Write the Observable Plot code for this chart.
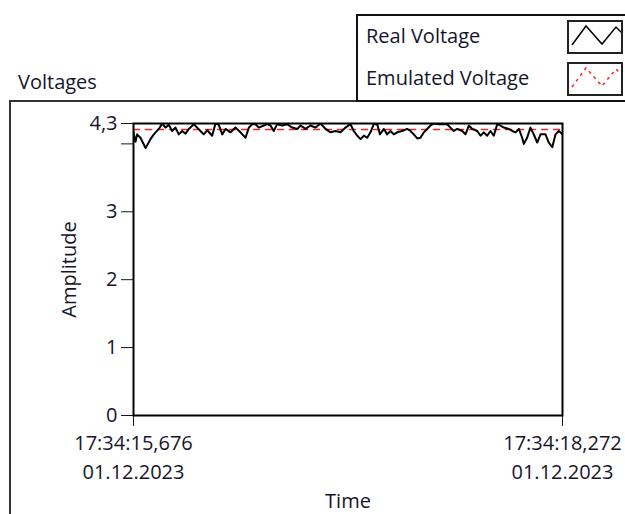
<!DOCTYPE html>
<html><head><meta charset="utf-8">
<script src="https://cdn.jsdelivr.net/npm/d3@7"></script>
<script src="https://cdn.jsdelivr.net/npm/@observablehq/plot@0.6"></script>
<style>
body{margin:0;background:#fff;font-family:"Open Sans",sans-serif;color:#15152a;}
#wrap{position:relative;width:625px;height:514px;overflow:hidden;background:#fff;}
#panel{position:absolute;left:9px;top:100px;width:700px;height:500px;border-left:2px solid #333;border-top:2px solid #333;box-sizing:border-box;}
#title{position:absolute;left:18px;top:68px;font-size:20px;line-height:28px;white-space:nowrap;}
#legend{position:absolute;left:356px;top:14px;width:300px;height:88px;border:2px solid #111;box-sizing:border-box;background:#fff;}
.row{position:absolute;left:8px;font-size:20px;line-height:28px;white-space:nowrap;}
.sw{position:absolute;left:209px;width:56px;height:34px;border:2px solid #222;box-sizing:border-box;background:#fff;}
#chart{position:absolute;left:0;top:0;}
</style></head>
<body><div id="wrap">
<div id="panel"></div>
<div id="title"></div>
<div id="legend"></div>
<div id="chart"></div>
</div>
<script>
// Title and legend
const titleText = "Voltages";
const seriesNames = ["Real Voltage", "Emulated Voltage"];
const seriesColors = ["#000000", "#f2242a"];
const seriesDash = ["none", "3,4"];

// Y axis ticks
const yTicks = [0, 1, 2, 3, 4, 4.3];
const yTickLabels = ["0", "1", "2", "3", "", "4,3"];
// X axis ticks (ms after 17:34:15,676)
const xTicks = [0, 2596];
const xTickLabels = ["17:34:15,676\n01.12.2023", "17:34:18,272\n01.12.2023"];
const xLabel = "Time";
const yLabel = "Amplitude";

// Real voltage: time offsets (ms) and values
const realTimes = [0,12,22,42,73,103,123,153,174,194,214,234,254,274,295,315,335,365,385,405,425,446,476,496,516,537,557,587,617,647,678,698,718,738,758,789,809,829,849,869,900,930,960,991,1011,1041,1071,1101,1132,1162,1192,1222,1253,1283,1313,1333,1354,1374,1394,1414,1434,1454,1475,1491,1515,1535,1555,1575,1596,1626,1656,1676,1696,1717,1737,1757,1777,1797,1817,1848,1878,1898,1918,1938,1959,1989,2009,2029,2050,2080,2100,2120,2140,2160,2180,2201,2221,2241,2271,2292,2312,2332,2352,2362,2382,2402,2422,2443,2463,2493,2513,2534,2554,2574,2596];
const realValues = [4.17,4.03,4.14,4.09,3.94,4.07,4.14,4.22,4.30,4.24,4.28,4.19,4.24,4.14,4.19,4.15,4.22,4.29,4.24,4.19,4.14,4.20,4.12,4.30,4.28,4.14,4.22,4.17,4.24,4.17,4.09,4.24,4.29,4.29,4.24,4.27,4.29,4.27,4.19,4.29,4.27,4.29,4.24,4.22,4.27,4.22,4.27,4.24,4.30,4.22,4.17,4.19,4.17,4.24,4.29,4.19,4.12,4.07,4.12,4.09,4.17,4.29,4.29,4.14,4.22,4.14,4.19,4.14,4.17,4.19,4.22,4.19,4.14,4.08,4.09,4.17,4.22,4.27,4.30,4.29,4.29,4.29,4.24,4.19,4.22,4.19,4.14,4.27,4.22,4.19,4.12,4.17,4.12,4.19,4.12,4.29,4.27,4.24,4.22,4.19,4.17,4.22,4.09,4.00,4.09,4.24,4.14,4.02,4.14,4.14,4.02,3.95,4.14,4.19,4.14];

// Emulated voltage
const emulatedTimes = [0, 2596];
const emulatedValues = [4.21, 4.21];

document.getElementById("title").textContent = titleText;
const legend = document.getElementById("legend");
seriesNames.forEach((name, i) => {
  const top = i === 0 ? 6 : 48;
  const r = document.createElement("div");
  r.className = "row"; r.style.top = (top) + "px"; r.textContent = name;
  legend.appendChild(r);
  const s = document.createElement("div");
  s.className = "sw"; s.style.top = (top - 2) + "px";
  s.innerHTML = `<svg width="52" height="30" style="position:absolute;left:0;top:0"><polyline points="3,23 17,4 33,22 47,5 53,11" fill="none" stroke="${seriesColors[i]}" stroke-width="1.5" stroke-dasharray="${seriesDash[i]}"/></svg>`;
  legend.appendChild(s);
});

const real = realTimes.map((t, i) => ({t, v: realValues[i]}));
const emu = emulatedTimes.map((t, i) => ({t, v: emulatedValues[i]}));

const chart = Plot.plot({
  width: 625, height: 514,
  marginLeft: 133, marginRight: 63, marginTop: 123, marginBottom: 99,
  style: {fontFamily: "Open Sans", fontSize: "20px", color: "#15152a", background: "transparent", overflow: "visible"},
  x: {domain: [0, 2596]},
  y: {domain: [0, 4.3]},
  marks: [
    Plot.axisY({ticks: yTicks, tickFormat: d => yTickLabels[yTicks.indexOf(d)], tickSize: 12, tickPadding: 4, fontSize: 20,
      label: yLabel, labelAnchor: "center", labelOffset: 72, labelArrow: false}),
    Plot.axisX({ticks: xTicks, tickFormat: d => xTickLabels[xTicks.indexOf(d)], tickSize: 11, tickPadding: 3, fontSize: 20, lineHeight: 1.45,
      label: xLabel, labelAnchor: "center", labelOffset: 92, labelArrow: false}),
    Plot.lineY(emu, {x: "t", y: "v", stroke: seriesColors[1], strokeWidth: 1.5, strokeDasharray: "6,6", clip: true}),
    Plot.lineY(real, {x: "t", y: "v", stroke: seriesColors[0], strokeWidth: 2, clip: true}),
    Plot.frame({stroke: "#000", strokeWidth: 2})
  ]
});
document.getElementById("chart").appendChild(chart);
</script>
</body></html>
